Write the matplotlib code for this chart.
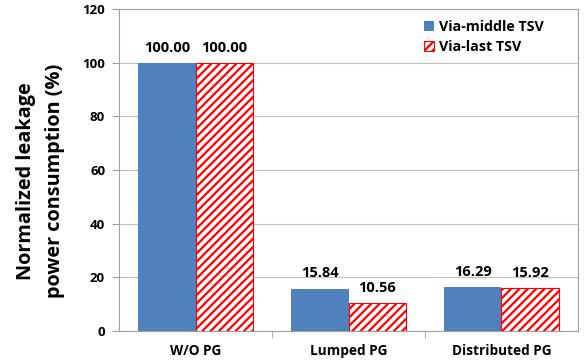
import matplotlib
matplotlib.use("Agg")
import matplotlib.pyplot as plt
import numpy as np

categories = ["W/O PG", "Lumped PG", "Distributed PG"]
via_middle = [100.00, 15.84, 16.29]
via_last = [100.00, 10.56, 15.92]
series_names = ["Via-middle TSV", "Via-last TSV"]
yticks = [0, 20, 40, 60, 80, 100, 120]

plt.rcParams['font.family'] = ['Open Sans', 'DejaVu Sans']
plt.rcParams['font.weight'] = 'bold'
plt.rcParams['hatch.linewidth'] = 1.6
plt.rcParams['hatch.color'] = '#FF0000'

fig = plt.figure(figsize=(5.84, 3.62), dpi=100)
ax = fig.add_axes([0.2038, 0.0856, 0.7859, 0.8894])

x = np.arange(len(categories))
w = 0.375
b1 = ax.bar(x - w/2, via_middle, w, color='#4F81BD', label=series_names[0], zorder=3)
b2 = ax.bar(x + w/2, via_last, w, color='white', edgecolor='#FF0000', hatch='////',
            linewidth=0.8, label=series_names[1], zorder=3)

for bars, vals in ((b1, via_middle), (b2, via_last)):
    for r, v in zip(bars, vals):
        ax.text(r.get_x() + r.get_width()/2, v + 3, f"{v:.2f}", ha='center', va='bottom',
                fontsize=10.5, fontweight='bold', color='black')

ax.set_xlim(-0.5, len(categories) - 0.5)
ax.set_ylim(0, 120)
ax.set_yticks(yticks)
ax.set_yticklabels([str(t) for t in yticks], fontsize=9.5, fontweight='bold')
ax.set_xticks(x)
ax.set_xticklabels(categories, fontsize=9.8, fontweight='bold')
ax.tick_params(axis='x', length=0, pad=9)
ax.set_xticks([0.5, 1.5], minor=True)
ax.tick_params(axis='x', which='minor', length=5, color='#A0A0A0', direction='out')
ax.tick_params(axis='y', length=5, color='#A0A0A0', direction='out', pad=5)
ax.yaxis.grid(True, color='#BFBFBF', linewidth=0.8, zorder=0)
ax.set_axisbelow(True)
for s in ax.spines.values():
    s.set_color('#A0A0A0')
    s.set_linewidth(0.8)

ax.set_ylabel("Normalized leakage\npower consumption (%)", fontsize=14.3, fontweight='bold',
              linespacing=1.6, va='center', ha='center')
ax.yaxis.set_label_coords(-0.17, 0.465)

leg = ax.legend(loc='upper left', bbox_to_anchor=(0.665, 0.966), frameon=False, fontsize=10.3,
                handlelength=0.7, handleheight=0.7, handletextpad=0.35, borderaxespad=0,
                borderpad=0, labelspacing=0.4)

fig.savefig("out.png", dpi=100)
